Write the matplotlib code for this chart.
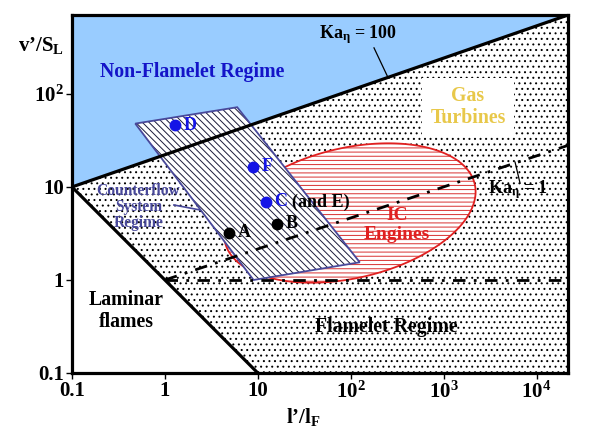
import numpy as np
import matplotlib

matplotlib.use("Agg")

import matplotlib.pyplot as plt
from matplotlib.patches import Polygon

plt.rcParams["font.family"] = ["Liberation Serif", "DejaVu Serif"]
plt.rcParams["font.weight"] = "bold"
plt.rcParams["mathtext.fontset"] = "custom"
plt.rcParams["mathtext.rm"] = "Liberation Serif:bold"
plt.rcParams["mathtext.it"] = "Liberation Serif:bold"
plt.rcParams["mathtext.bf"] = "Liberation Serif:bold"
plt.rcParams["hatch.linewidth"] = 0.7

X_MIN, X_MAX = 0.1, 2.18e4
Y_MIN, Y_MAX = 0.1, 706

# regime boundaries
ka100_x = [0.1, X_MAX]
ka100_y = [10, Y_MAX]
laminar_x = [0.1, 10]
laminar_y = [10, 0.1]
ka1_x = [1, X_MAX]
ka1_y = [1, 28]
unity_x = [1, X_MAX]
unity_y = [1, 1]

# counterflow system region
counter_x = [0.48, 6.0, 125, 9.0]
counter_y = [48, 72, 1.55, 1.0]

# IC engines region, ellipse given in decades (log10 space)
ic_center = (1.99, 0.72)
ic_radii = (1.38, 0.70)
ic_angle = 13

points = ["A", "B", "C", "F", "D"]
points_x = [4.9, 16.1, 12.2, 8.9, 1.29]
points_y = [3.2, 4.0, 6.9, 16.4, 46]
point_colors = ["black", "black", "#1414e6", "#1414e6", "#1414e6"]

x_ticks = [0.1, 1, 10, 100, 1000, 10000]
x_tick_labels = ["0.1", "1", "10", r"$10^2$", r"$10^3$", r"$10^4$"]
y_ticks = [0.1, 1, 10, 100]
y_tick_labels = ["0.1", "1", "10", r"$10^2$"]


def ellipse_path(center, radii, angle):
    t = np.linspace(0, 2 * np.pi, 300)
    th = np.radians(angle)
    u = radii[0] * np.cos(t)
    v = radii[1] * np.sin(t)
    lx = center[0] + u * np.cos(th) - v * np.sin(th)
    ly = center[1] + u * np.sin(th) + v * np.cos(th)
    return np.column_stack([10 ** lx, 10 ** ly])


fig = plt.figure(figsize=(6.06, 4.41), dpi=100)
ax = fig.add_axes([72 / 606, 1 - 373 / 441, 496 / 606, 358 / 441])
ax.set_xscale("log")
ax.set_yscale("log")
ax.set_xlim(X_MIN, X_MAX)
ax.set_ylim(Y_MIN, Y_MAX)

# non-flamelet (blue) region
ax.add_patch(Polygon([(ka100_x[0], ka100_y[0]), (X_MIN, Y_MAX), (ka100_x[1], ka100_y[1])],
                     closed=True, facecolor="#99ccff", edgecolor="none", zorder=1))
# flamelet region, stippled
ax.add_patch(Polygon([(laminar_x[0], laminar_y[0]), (laminar_x[1], laminar_y[1]),
                      (X_MAX, Y_MIN), (ka100_x[1], ka100_y[1])],
                     closed=True, facecolor="white", edgecolor="black", lw=0,
                     hatch="...", zorder=1))

# IC engines
ell = ellipse_path(ic_center, ic_radii, ic_angle)
ax.add_patch(Polygon(ell, closed=True, facecolor="white", edgecolor="#d83030", lw=0,
                     hatch="----", zorder=2))
ax.add_patch(Polygon(ell, closed=True, facecolor="none", edgecolor="#e02020", lw=1.3, zorder=2))

# counterflow system
cf = list(zip(counter_x, counter_y))
ax.add_patch(Polygon(cf, closed=True, facecolor="white", edgecolor="#1a1a3a", lw=0,
                     hatch="\\" * 5, zorder=3))
ax.add_patch(Polygon(cf, closed=True, facecolor="none", edgecolor="#48489a", lw=1.3, zorder=3))

ax.plot(ka100_x, ka100_y, color="black", lw=2.3, zorder=4)
ax.plot(laminar_x, laminar_y, color="black", lw=2.3, zorder=4)
ax.plot(ka1_x, ka1_y, color="black", lw=2.0, dashes=(4.5, 3, 1, 3), zorder=5)
ax.plot(unity_x, unity_y, color="black", lw=2.0, dashes=(4.5, 3, 1, 3), zorder=5)

for name, px, py, c in zip(points, points_x, points_y, point_colors):
    ax.plot(px, py, "o", color=c, ms=7.5, zorder=6)
    ax.annotate(name, (px, py), xytext=(6, 0), textcoords="offset points",
                ha="left", va="center", color=c, fontsize=13, zorder=6)
ax.annotate("(and E)", (points_x[2], points_y[2]), xytext=(19, 0), textcoords="offset points",
            ha="left", va="center", color="black", fontsize=13, zorder=6)

# region labels
ax.text(1.96, 173, "Non-Flamelet Regime", color="#1414c8", fontsize=14.3, ha="center", va="center")
ax.text(1830, 72, "Gas\nTurbines", color="#e8c84a", fontsize=14.3, ha="center", va="center",
        linespacing=1.1, bbox=dict(facecolor="white", edgecolor="none", pad=6), zorder=5)
ax.text(315, 3.9, "IC\nEngines", color="#e02020", fontsize=14, ha="center", va="center",
        linespacing=1.2, zorder=7)
ax.text(0.52, 6.1, "Counterflow\nSystem\nRegime", color="#48489a", fontsize=11.2,
        ha="center", va="center", linespacing=1.0, zorder=7)
ax.plot([1.25, 2.39], [6.4, 5.66], color="#48489a", lw=1.2, zorder=7)
ax.text(0.381, 0.464, "Laminar\nflames", color="black", fontsize=14.3, ha="center", va="center",
        linespacing=1.1)
ax.text(240, 0.313, "Flamelet Regime", color="black", fontsize=14.3, ha="center", va="center")

ax.text(120, 430, r"$Ka_{\eta}$ = 100", color="black", fontsize=13, ha="center", va="center")
ax.plot([178, 252], [313, 150], color="black", lw=0.9, zorder=6)
ax.text(6300, 9.3, r"$Ka_{\eta}$ = 1", color="black", fontsize=13, ha="center", va="center", zorder=7)
ax.plot([5870, 6640], [18.5, 11], color="black", lw=0.9, zorder=6)

ax.set_xticks(x_ticks)
ax.set_xticklabels(x_tick_labels)
ax.set_yticks(y_ticks)
ax.set_yticklabels(y_tick_labels)
ax.minorticks_off()
ax.tick_params(direction="out", length=4, width=1, labelsize=15, pad=2)
for s in ax.spines.values():
    s.set_linewidth(2.3)
    s.set_zorder(8)

fig.text(41 / 606, 1 - 45 / 441, r"$v’/S_{L}$", fontsize=15, ha="center", va="center")
fig.text(303 / 606, 1 - 417 / 441, r"$l’/l_{F}$", fontsize=15, ha="center", va="center")

fig.savefig("out.png", dpi=100)
